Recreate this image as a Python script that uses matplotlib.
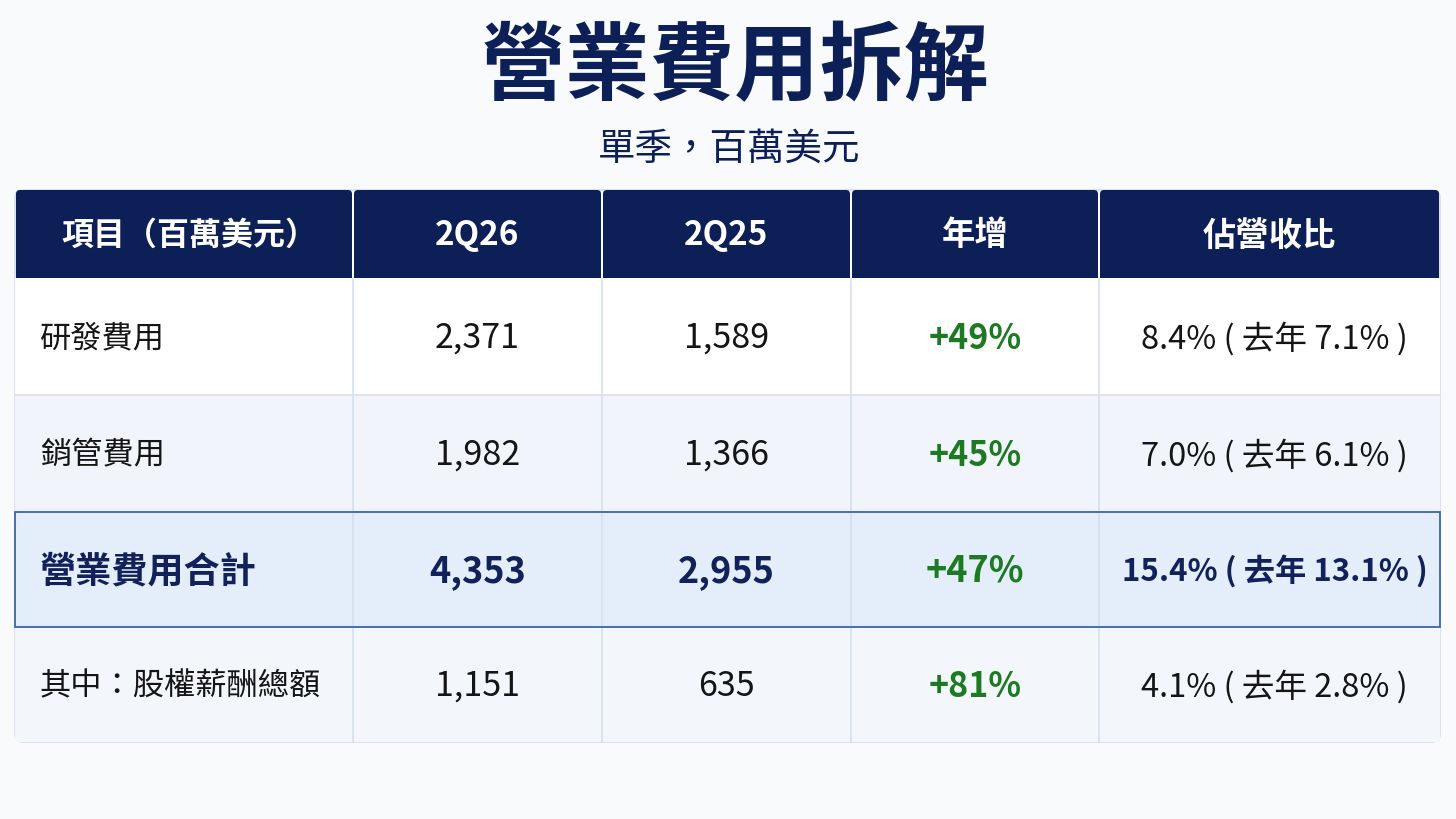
import matplotlib.pyplot as plt
from matplotlib.patches import Rectangle, FancyBboxPatch

plt.rcParams['font.family'] = ['Noto Sans CJK TC', 'DejaVu Sans']

title = '營業費用拆解'
subtitle = '單季，百萬美元'
headers = ['項目（百萬美元）', '2Q26', '2Q25', '年增', '佔營收比']
items = ['研發費用', '銷管費用', '營業費用合計', '其中：股權薪酬總額']
q26 = [2371, 1982, 4353, 1151]
q25 = [1589, 1366, 2955, 635]
yoy = [49, 45, 47, 81]
ratio_now = [8.4, 7.0, 15.4, 4.1]
ratio_prev = [7.1, 6.1, 13.1, 2.8]
total_row = 2

# layout in pixels
col_x = [15, 353, 602, 851, 1099, 1440]
head_top, head_bot = 190, 278
row_y = [278, 395, 512, 627, 742]
row_bg = ['#ffffff', '#f1f5fb', '#e4eefb', '#f3f6fb']
navy = '#0c1f56'
green = '#1d7a22'

fig = plt.figure(figsize=(14.56, 8.19), dpi=100)
fig.patch.set_facecolor('#f9fafc')
ax = fig.add_axes([0, 0, 1, 1])
ax.set_xlim(0, 1456)
ax.set_ylim(819, 0)
ax.axis('off')

ax.text(735, 68, title, ha='center', va='center', fontsize=61,
        fontweight='heavy', color=navy)
ax.text(729, 149, subtitle, ha='center', va='center', fontsize=27,
        color=navy)

# table body background / outline
ax.add_patch(FancyBboxPatch((col_x[0], head_top), col_x[-1] - col_x[0],
                            row_y[-1] - head_top,
                            boxstyle='round,pad=0,rounding_size=8',
                            fc='#ffffff', ec='#d3deec', lw=1.2, zorder=1))

for i in range(len(items)):
    ax.add_patch(Rectangle((col_x[0], row_y[i]), col_x[-1] - col_x[0],
                           row_y[i + 1] - row_y[i], fc=row_bg[i],
                           ec='none', zorder=2))
# grid lines
for x in col_x[1:-1]:
    ax.plot([x, x], [head_bot, row_y[-1]], color='#d5e0ee', lw=1.2, zorder=3)
for y in row_y[1:-1]:
    ax.plot([col_x[0], col_x[-1]], [y, y], color='#d5e0ee', lw=1.2, zorder=3)

# highlighted total row
ax.add_patch(Rectangle((col_x[0], row_y[total_row]), col_x[-1] - col_x[0],
                       row_y[total_row + 1] - row_y[total_row], fc='none',
                       ec='#3a64b4', lw=1.3, zorder=4))

# header cells
for j, h in enumerate(headers):
    x0, x1 = col_x[j] + 1, col_x[j + 1] - 1
    ax.add_patch(FancyBboxPatch((x0, head_top), x1 - x0, head_bot - head_top,
                                boxstyle='round,pad=0,rounding_size=4',
                                fc=navy, ec='none', zorder=5))
    ax.add_patch(Rectangle((x0, head_top + 20), x1 - x0, head_bot - head_top - 20,
                           fc=navy, ec='none', zorder=5))
    xc = (x0 + x1) / 2 + (5 if j == 0 else 0)
    ax.text(xc, (head_top + head_bot) / 2 + 2, h, ha='center',
            va='center', fontsize=23 if j == 0 else 24, fontweight='bold',
            color='white', zorder=6)

for i in range(len(items)):
    yc = (row_y[i] + row_y[i + 1]) / 2 + 2
    bold = i == total_row
    fw = 'bold' if bold else 'normal'
    tc = '#13215a' if bold else '#151515'
    ax.text(col_x[0] + 25, yc, items[i], ha='left', va='center',
            fontsize=26 if bold else 22.5, fontweight=fw, color=tc, zorder=6)
    vals = [f'{q26[i]:,}', f'{q25[i]:,}']
    for j, v in enumerate(vals):
        xc = (col_x[j + 1] + col_x[j + 2]) / 2
        ax.text(xc, yc, v, ha='center', va='center',
                fontsize=26 if bold else 24.5, fontweight=fw, color=tc, zorder=6)
    ax.text((col_x[3] + col_x[4]) / 2, yc, f'+{yoy[i]}%', ha='center',
            va='center', fontsize=26 if bold else 24.5, fontweight='bold',
            color=green, zorder=6)
    ax.text((col_x[4] + col_x[5]) / 2 + 5, yc,
            f'{ratio_now[i]:.1f}% ( 去年 {ratio_prev[i]:.1f}% )', ha='center',
            va='center', fontsize=22.5 if bold else 23.5, fontweight=fw,
            color=tc, zorder=6)

fig.savefig('out.png', dpi=100, facecolor=fig.get_facecolor())
